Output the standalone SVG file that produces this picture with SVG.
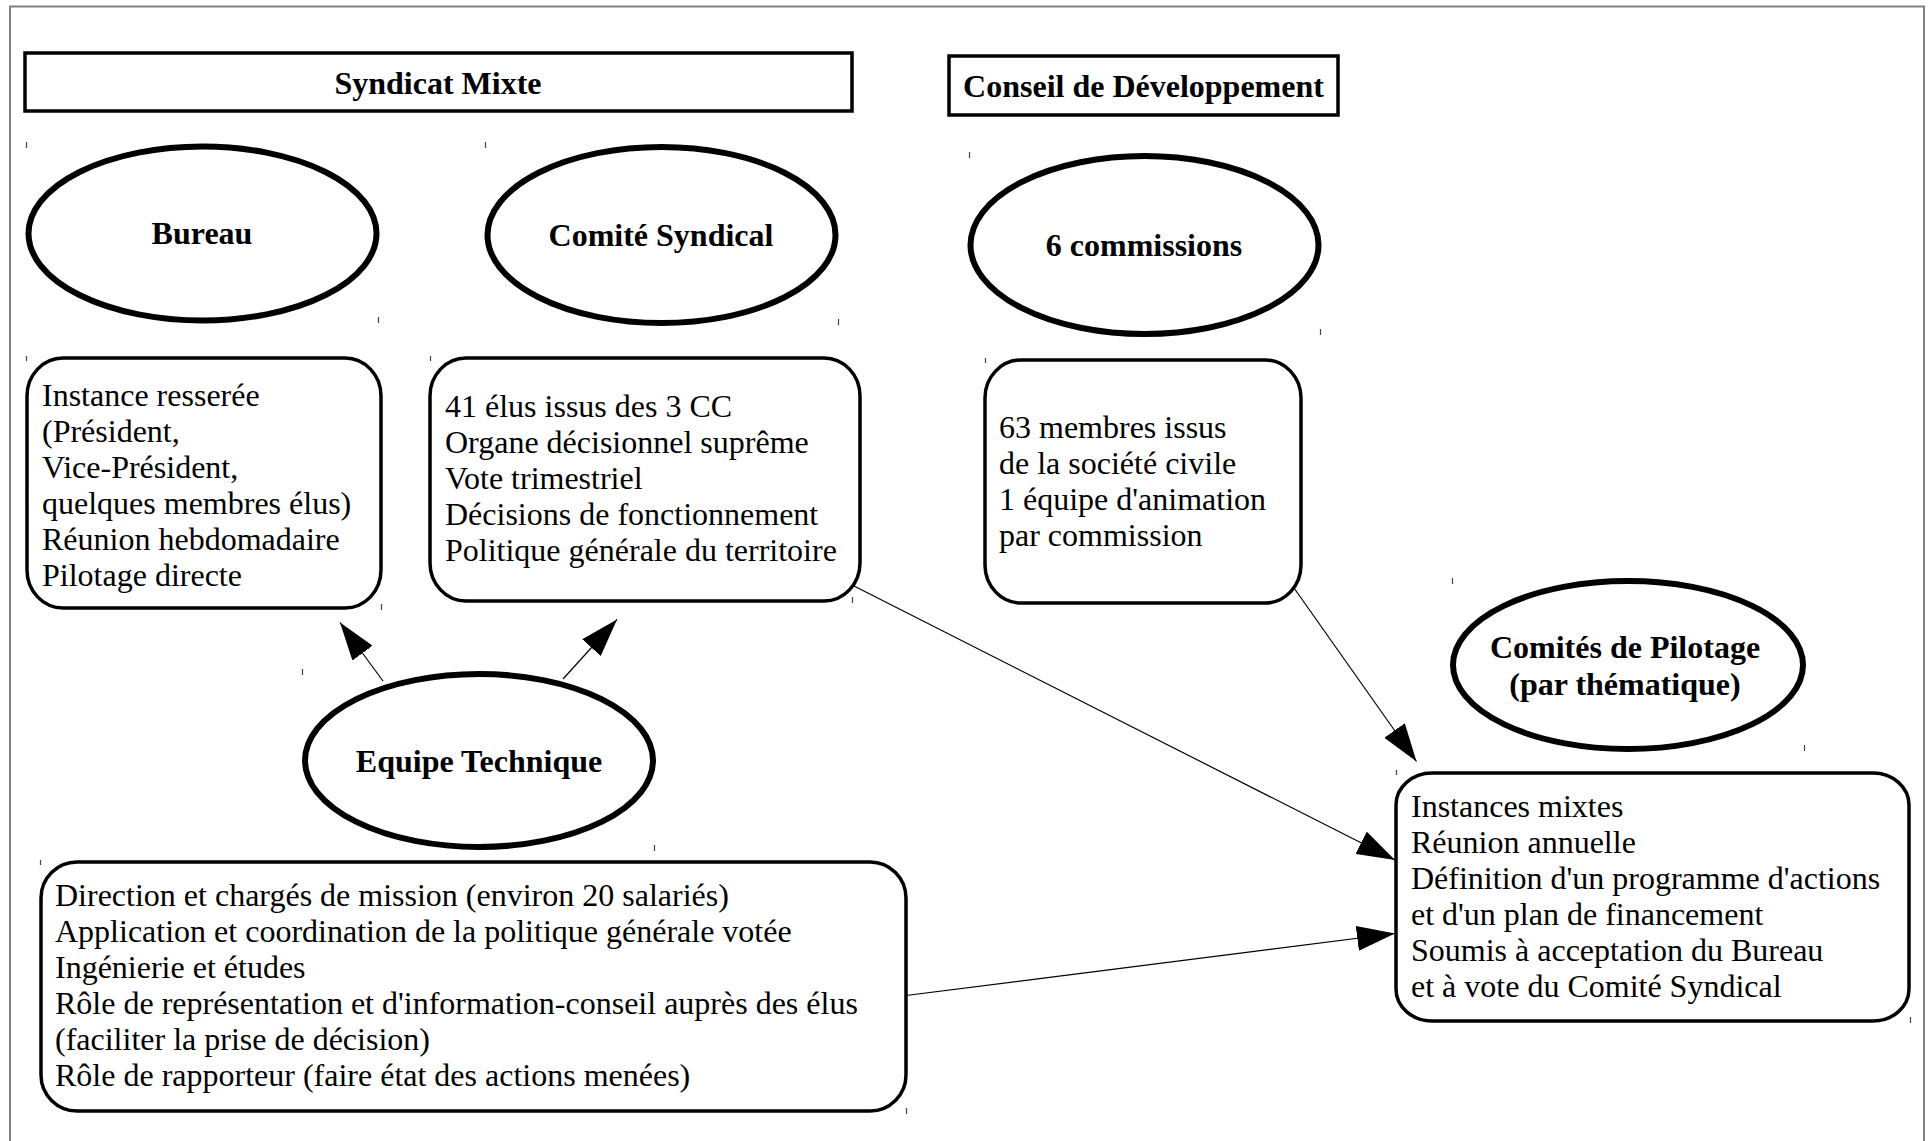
<svg xmlns="http://www.w3.org/2000/svg" width="1930" height="1141" viewBox="0 0 1930 1141">
  <style>
    .frame { fill: none; stroke: #808080; stroke-width: 2; }
    .title-box { fill: #ffffff; stroke: #000000; stroke-width: 3.5; }
    .oval { fill: #ffffff; stroke: #000000; stroke-width: 6; }
    .card { fill: #ffffff; stroke: #000000; stroke-width: 3.5; }
    .head { font-family: "Liberation Serif", "Times New Roman", serif; font-size: 32px; font-weight: bold; fill: #000000; text-anchor: middle; }
    .body { font-family: "Liberation Serif", "Times New Roman", serif; font-size: 32px; fill: #000000; }
    .link { fill: none; stroke: #000000; stroke-width: 1.2; marker-end: url(#arrow); }
    .tick { stroke: #444444; stroke-width: 1.2; }
  </style>
  <defs>
    <marker id="arrow" viewBox="0 0 38 25" refX="38" refY="12.5" markerWidth="38" markerHeight="25" markerUnits="userSpaceOnUse" orient="auto">
      <path d="M0,0 L38,12.5 L0,25 z" fill="#000000"/>
    </marker>
  </defs>

  <rect width="1930" height="1141" fill="#ffffff"/>

  <!-- page frame -->
  <path class="frame" d="M10,1141 V6.5 H1924 V1141"/>

  <!-- section titles -->
  <g id="syndicat-mixte">
    <rect class="title-box" x="25" y="53" width="827" height="58"/>
    <text class="head" x="438" y="94">Syndicat Mixte</text>
  </g>
  <g id="conseil-developpement">
    <rect class="title-box" x="949" y="56" width="389" height="59"/>
    <text class="head" x="1143.5" y="97">Conseil de Développement</text>
  </g>

  <!-- bodies -->
  <g id="bureau">
    <ellipse class="oval" cx="202.5" cy="233.5" rx="174" ry="87"/>
    <text class="head" x="202" y="244">Bureau</text>
  </g>
  <g id="comite-syndical">
    <ellipse class="oval" cx="661.5" cy="235" rx="174" ry="88"/>
    <text class="head" x="661" y="246">Comité Syndical</text>
  </g>
  <g id="commissions">
    <ellipse class="oval" cx="1144.5" cy="245" rx="174" ry="89"/>
    <text class="head" x="1144" y="256">6 commissions</text>
  </g>
  <g id="equipe-technique">
    <ellipse class="oval" cx="479" cy="760.5" rx="174" ry="86.5"/>
    <text class="head" x="479" y="772">Equipe Technique</text>
  </g>
  <g id="comites-pilotage">
    <ellipse class="oval" cx="1628" cy="665" rx="175" ry="84"/>
    <text class="head" x="1625" y="658">Comités de Pilotage</text>
    <text class="head" x="1625" y="695">(par thématique)</text>
  </g>

  <!-- descriptions -->
  <g id="bureau-details">
    <rect class="card" x="27" y="358" width="354" height="250" rx="36" ry="38"/>
    <text class="body">
      <tspan x="42" y="406">Instance resserée</tspan>
      <tspan x="42" y="442">(Président,</tspan>
      <tspan x="42" y="478">Vice-Président,</tspan>
      <tspan x="42" y="514">quelques membres élus)</tspan>
      <tspan x="42" y="550">Réunion hebdomadaire</tspan>
      <tspan x="42" y="586">Pilotage directe</tspan>
    </text>
  </g>
  <g id="comite-details">
    <rect class="card" x="430" y="358" width="430" height="243" rx="36" ry="38"/>
    <text class="body">
      <tspan x="445" y="417">41 élus issus des 3 CC</tspan>
      <tspan x="445" y="453">Organe décisionnel suprême</tspan>
      <tspan x="445" y="489">Vote trimestriel</tspan>
      <tspan x="445" y="525">Décisions de fonctionnement</tspan>
      <tspan x="445" y="561">Politique générale du territoire</tspan>
    </text>
  </g>
  <g id="commissions-details">
    <rect class="card" x="985" y="360" width="316" height="243" rx="36" ry="38"/>
    <text class="body">
      <tspan x="999" y="438">63 membres issus</tspan>
      <tspan x="999" y="474">de la société civile</tspan>
      <tspan x="999" y="510">1 équipe d'animation</tspan>
      <tspan x="999" y="546">par commission</tspan>
    </text>
  </g>
  <g id="equipe-details">
    <rect class="card" x="41" y="862" width="865" height="249" rx="36" ry="36"/>
    <text class="body">
      <tspan x="55" y="906">Direction et chargés de mission (environ 20 salariés)</tspan>
      <tspan x="55" y="942">Application et coordination de la politique générale votée</tspan>
      <tspan x="55" y="978">Ingénierie et études</tspan>
      <tspan x="55" y="1014">Rôle de représentation et d'information-conseil auprès des élus</tspan>
      <tspan x="55" y="1050">(faciliter la prise de décision)</tspan>
      <tspan x="55" y="1086">Rôle de rapporteur (faire état des actions menées)</tspan>
    </text>
  </g>
  <g id="pilotage-details">
    <rect class="card" x="1396" y="773" width="513" height="248" rx="36" ry="32"/>
    <text class="body">
      <tspan x="1411" y="817">Instances mixtes</tspan>
      <tspan x="1411" y="853">Réunion annuelle</tspan>
      <tspan x="1411" y="889">Définition d'un programme d'actions</tspan>
      <tspan x="1411" y="925">et d'un plan de financement</tspan>
      <tspan x="1411" y="961">Soumis à acceptation du Bureau</tspan>
      <tspan x="1411" y="997">et à vote du Comité Syndical</tspan>
    </text>
  </g>

  <!-- connectors -->
  <g id="connectors">
    <line class="link" x1="383" y1="681" x2="340" y2="622.5"/>
    <line class="link" x1="563" y1="679" x2="617" y2="619.5"/>
    <line class="link" x1="854" y1="586" x2="1395" y2="860"/>
    <line class="link" x1="1294" y1="588" x2="1416.5" y2="761.5"/>
    <line class="link" x1="906" y1="995.5" x2="1395" y2="933.5"/>
  </g>

  <!-- corner marks left by the drawing frames -->
  <g id="corner-marks">
    <line class="tick" x1="26.5" y1="142" x2="26.5" y2="148"/>
    <line class="tick" x1="378.5" y1="317" x2="378.5" y2="323"/>
    <line class="tick" x1="485.5" y1="142" x2="485.5" y2="148"/>
    <line class="tick" x1="838.5" y1="319" x2="838.5" y2="325"/>
    <line class="tick" x1="969.5" y1="152" x2="969.5" y2="158"/>
    <line class="tick" x1="1320.5" y1="329" x2="1320.5" y2="335"/>
    <line class="tick" x1="26.5" y1="356" x2="26.5" y2="361"/>
    <line class="tick" x1="381.5" y1="604" x2="381.5" y2="610"/>
    <line class="tick" x1="430.5" y1="356" x2="430.5" y2="361"/>
    <line class="tick" x1="852.5" y1="597" x2="852.5" y2="603"/>
    <line class="tick" x1="985.5" y1="358" x2="985.5" y2="363"/>
    <line class="tick" x1="302.5" y1="669" x2="302.5" y2="675"/>
    <line class="tick" x1="654.5" y1="845" x2="654.5" y2="851"/>
    <line class="tick" x1="40.5" y1="860" x2="40.5" y2="865"/>
    <line class="tick" x1="906.5" y1="1108" x2="906.5" y2="1114"/>
    <line class="tick" x1="1452.5" y1="578" x2="1452.5" y2="584"/>
    <line class="tick" x1="1804.5" y1="745" x2="1804.5" y2="751"/>
    <line class="tick" x1="1396.5" y1="770" x2="1396.5" y2="775"/>
    <line class="tick" x1="1910.5" y1="1017" x2="1910.5" y2="1023"/>
  </g>
</svg>
